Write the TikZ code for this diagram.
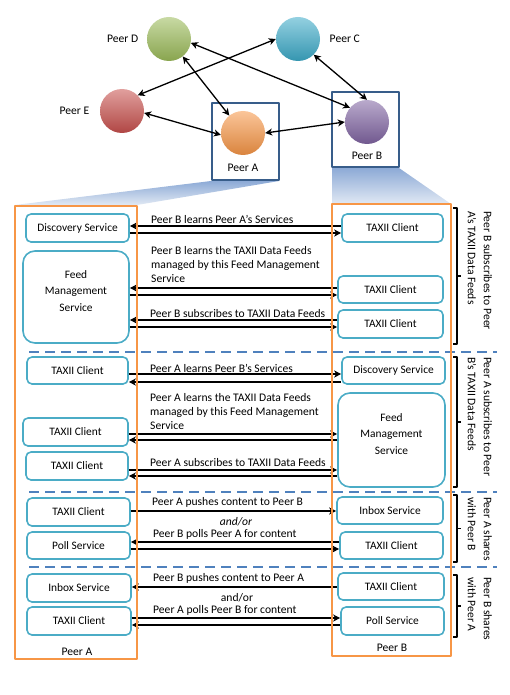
\documentclass[tikz,border=0pt]{standalone}
\usepackage{fontspec}
\setmainfont{Carlito}
\usetikzlibrary{arrows.meta}
\definecolor{svcteal}{RGB}{75,172,198}
\definecolor{paneorange}{RGB}{247,150,70}
\definecolor{sepblue}{RGB}{79,129,189}
\definecolor{frameblue}{RGB}{56,93,138}
\definecolor{shadetop}{RGB}{141,170,214}
\definecolor{shadebot}{RGB}{225,233,244}
\definecolor{peergreen}{RGB}{155,187,89}
\definecolor{peercyan}{RGB}{60,170,200}
\definecolor{peerred}{RGB}{200,80,77}
\definecolor{peerorange}{RGB}{247,150,70}
\definecolor{peerpurple}{RGB}{128,100,162}
\begin{document}
\begin{tikzpicture}[x=1pt,y=-1pt,line join=round,>={Stealth[length=7pt,width=7pt,inset=2pt]},font=\fontsize{11.6}{13}\selectfont]
\tikzset{svc/.style={draw=svcteal,line width=1.6pt,rounded corners=5pt,fill=white,align=center,inner sep=1pt,font=\fontsize{11.4}{13}\selectfont},
	feedbox/.style={svc,rounded corners=12pt},
	feedtext/.style={align=center,font=\fontsize{11.4}{16.5}\selectfont},
	peer/.style={circle,minimum size=44pt,inner sep=0pt},
	link/.style={<->,line width=1.3pt},
	msg/.style={->,line width=1.2pt},
	note/.style={anchor=west,inner sep=0pt},
	longnote/.style={anchor=north west,inner sep=0pt,align=left,font=\fontsize{11.6}{14}\selectfont},
	sep/.style={sepblue,line width=2.4pt,dash pattern=on 10pt off 6pt},
	pane/.style={paneorange,line width=1.8pt},
	peerframe/.style={frameblue,line width=1.6pt},
	brk/.style={line width=1.2pt},
	side/.style={rotate=-90,anchor=north west,align=left,inner sep=0pt,font=\fontsize{11.6}{16}\selectfont},
	ball/.style={top color=#1!55!white,middle color=#1,bottom color=#1!88!black}}
\useasboundingbox (0,0) rectangle (509,695);
% peer network
\shade[top color=shadetop,bottom color=shadebot] (211,181)--(279,181)--(137,205)--(15,205)--cycle;
\shade[top color=shadetop,bottom color=shadebot] (332,168)--(399,168)--(451,204)--(332,204)--cycle;
\draw[peerframe] (212,103) rectangle (279,180);
\draw[peerframe] (332,92) rectangle (399,167);
\node[peer,ball=peergreen,label={[label distance=5pt]left:Peer D}] (peerD) at (169,39) {};
\node[peer,ball=peercyan,label={[label distance=6pt]right:Peer C}] (peerC) at (298,39) {};
\node[peer,ball=peerred,label={[label distance=7pt]left:Peer E}] (peerE) at (122,111) {};
\node[peer,ball=peerorange,label={[label distance=5pt]below:Peer A}] (peerA) at (243,133) {};
\node[peer,ball=peerpurple,label={[label distance=4pt]below:Peer B}] (peerB) at (367,122) {};
\draw[link] (peerD) -- (peerA);
\draw[link] (peerD.-10) -- (peerB.140);
\draw[link] (peerC.180) -- (peerE.45);
\draw[link] (peerC.-45) -- (peerB.90);
\draw[link] (peerE.-5) -- (peerA.185);
\draw[link] (peerA.east) -- (peerB.west);
% separators and braces
\foreach \y in {352,492,567}
	\draw[sep] (29,\y)--(497,\y);
\foreach \ya/\yb in {208/344,357/487,495/562,575/637}
	\draw[brk] (453,\ya)--(457,\ya)--(457,\yb)--(453,\yb) (457,{(\ya+\yb)/2})--(461,{(\ya+\yb)/2});
\node[side] (sideB) at (492,211) {Peer B subscribes to Peer\\A's TAXII Data Feeds};
\node[side] (sideA) at (492,357) {Peer A subscribes to Peer\\B's TAXII Data Feeds};
\node[side] (shareA) at (492,497) {Peer A shares\\with Peer B};
\node[side] (shareB) at (492,577) {Peer B shares\\with Peer A};
% B subscribes to A
\node[svc,minimum width=103pt,minimum height=28pt] (discA) at (77.5,228) {Discovery Service};
\node[feedbox,minimum width=106pt,minimum height=92pt] (feedA) at (76,297) {};
\node[feedtext] (feedAtext) at ([yshift=6pt]feedA.center) {Feed\\Management\\Service};
\node[svc,minimum width=101pt,minimum height=28pt] (clientB1) at (392.5,228) {TAXII Client};
\node[svc,minimum width=105pt,minimum height=27pt] (clientB2) at (390.5,289.5) {TAXII Client};
\node[svc,minimum width=105pt,minimum height=28pt] (clientB3) at (390.5,324) {TAXII Client};
\draw[msg] (clientB1.west |- 0,226) -- (discA.east |- 0,226);
\draw[msg] (discA.east |- 0,233) -- (clientB1.west |- 0,233);
\node[note] (learnB) at (151,219) {Peer B learns Peer A's Services};
\draw[msg] (clientB2.west |- 0,288) -- (feedA.east |- 0,288);
\draw[msg] (feedA.east |- 0,295) -- (clientB2.west |- 0,295);
\node[longnote] (feedsB) at (151,246) {Peer B learns the TAXII Data Feeds\\managed by this Feed Management\\Service};
\draw[msg] (clientB3.west |- 0,320) -- (feedA.east |- 0,320);
\draw[msg] (feedA.east |- 0,327) -- (clientB3.west |- 0,327);
\node[note] (subB) at (150,314) {Peer B subscribes to TAXII Data Feeds};
% A subscribes to B
\node[svc,minimum width=101pt,minimum height=27pt] (clientA1) at (77.5,370.5) {TAXII Client};
\node[svc,minimum width=103pt,minimum height=27pt] (discB) at (393.5,370.5) {Discovery Service};
\node[svc,minimum width=105pt,minimum height=28pt] (clientA2) at (75.5,432) {TAXII Client};
\node[svc,minimum width=102pt,minimum height=28pt] (clientA3) at (77,466) {TAXII Client};
\node[feedbox,minimum width=107pt,minimum height=94pt] (feedB) at (391.5,440) {};
\node[feedtext] (feedBtext) at ([yshift=6pt]feedB.center) {Feed\\Management\\Service};
\draw[msg] (clientA1.east |- 0,374) -- (discB.west |- 0,374);
\draw[msg] (discB.west |- 0,382) -- (clientA1.east |- 0,382);
\node[note] (learnA) at (150,368) {Peer A learns Peer B's Services};
\draw[msg] (clientA2.east |- 0,434) -- (feedB.west |- 0,434);
\draw[msg] (feedB.west |- 0,440) -- (clientA2.east |- 0,440);
\node[longnote] (feedsA) at (150,393) {Peer A learns the TAXII Data Feeds\\managed by this Feed Management\\Service};
\draw[msg] (clientA3.east |- 0,470) -- (feedB.west |- 0,470);
\draw[msg] (feedB.west |- 0,476) -- (clientA3.east |- 0,476);
\node[note] (subA) at (150,463) {Peer A subscribes to TAXII Data Feeds};
% A shares with B
\node[svc,minimum width=103pt,minimum height=28pt] (clientA4) at (78.5,512) {TAXII Client};
\node[svc,minimum width=103pt,minimum height=27pt] (pollA) at (78.5,545.5) {Poll Service};
\node[svc,minimum width=106pt,minimum height=27pt] (inboxB) at (390,510.5) {Inbox Service};
\node[svc,minimum width=103pt,minimum height=27pt] (clientB4) at (391.5,545.5) {TAXII Client};
\draw[msg] (clientA4.east |- 0,511) -- (inboxB.west |- 0,511);
\node[note] (pushA) at (152,502) {Peer A pushes content to Peer B};
\node[font=\fontsize{11.6}{13}\selectfont\itshape] (orA) at (236,522) {and/or};
\node[note] (pollnoteB) at (153,534) {Peer B polls Peer A for content};
\draw[msg] (clientB4.west |- 0,542) -- (pollA.east |- 0,542);
\draw[msg] (pollA.east |- 0,549) -- (clientB4.west |- 0,549);
% B shares with A
\node[svc,minimum width=104pt,minimum height=28pt] (inboxA) at (79,588) {Inbox Service};
\node[svc,minimum width=104pt,minimum height=28pt] (clientA5) at (79,621) {TAXII Client};
\node[svc,minimum width=106pt,minimum height=27pt] (clientB5) at (391,586.5) {TAXII Client};
\node[svc,minimum width=103pt,minimum height=28pt] (pollB) at (392.5,621) {Poll Service};
\draw[msg] (clientB5.west |- 0,587) -- (inboxA.east |- 0,587);
\node[note] (pushB) at (153,578) {Peer B pushes content to Peer A};
\node (orB) at (237,598) {and/or};
\node[note] (pollnoteA) at (153,610) {Peer A polls Peer B for content};
\draw[msg] (clientA5.east |- 0,618) -- (pollB.west |- 0,618);
\draw[msg] (pollB.west |- 0,625) -- (clientA5.east |- 0,625);
% the two peers
\draw[pane] (15,206) rectangle (137,659);
\draw[pane] (332,204) rectangle (451,656);
\node (paneA) at (77,652) {Peer A};
\node (paneB) at (392,648) {Peer B};
\end{tikzpicture}
\end{document}
